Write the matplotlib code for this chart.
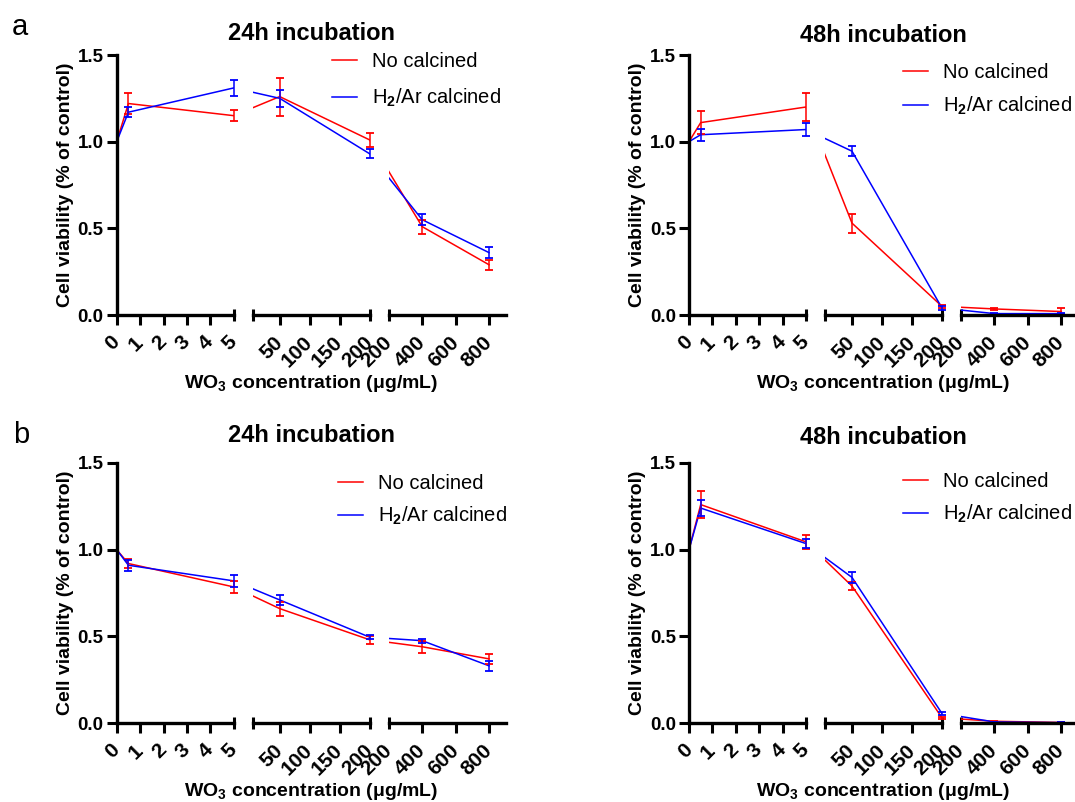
import matplotlib
matplotlib.use('Agg')
import numpy as np
import matplotlib.pyplot as plt
from matplotlib.lines import Line2D

plt.rcParams['font.family'] = ['Liberation Sans', 'DejaVu Sans']
plt.rcParams['font.weight'] = 'bold'
plt.rcParams['mathtext.fontset'] = 'custom'
plt.rcParams['mathtext.rm'] = 'Liberation Sans'
plt.rcParams['mathtext.bf'] = 'Liberation Sans:bold'

RED = '#ff0000'
BLUE = '#0000ff'

conc = [0, 0.5, 5, 50, 200, 400, 800]

# panel a, 24h
a24_no = [1.0, 1.22, 1.15, 1.26, 1.01, 0.51, 0.29]
a24_no_err = [0, 0.06, 0.03, 0.11, 0.04, 0.04, 0.03]
a24_h2 = [1.0, 1.17, 1.31, 1.25, 0.93, 0.55, 0.36]
a24_h2_err = [0, 0.03, 0.045, 0.05, 0.025, 0.03, 0.03]

# panel a, 48h
a48_no = [1.0, 1.11, 1.20, 0.53, 0.05, 0.035, 0.02]
a48_no_err = [0, 0.065, 0.08, 0.055, 0.01, 0.004, 0.02]
a48_h2 = [1.0, 1.04, 1.07, 0.945, 0.04, 0.008, 0.008]
a48_h2_err = [0, 0.035, 0.04, 0.03, 0.01, 0.003, 0.003]

# panel b, 24h
b24_no = [1.0, 0.92, 0.785, 0.66, 0.48, 0.44, 0.37]
b24_no_err = [0, 0.027, 0.035, 0.04, 0.022, 0.034, 0.027]
b24_h2 = [1.0, 0.91, 0.82, 0.71, 0.495, 0.475, 0.33]
b24_h2_err = [0, 0.033, 0.034, 0.031, 0.012, 0.012, 0.03]

# panel b, 48h
b48_no = [1.0, 1.26, 1.045, 0.79, 0.03, 0.01, 0.003]
b48_no_err = [0, 0.08, 0.042, 0.025, 0.005, 0.003, 0.002]
b48_h2 = [1.0, 1.24, 1.035, 0.84, 0.055, 0.006, 0.002]
b48_h2_err = [0, 0.044, 0.028, 0.032, 0.01, 0.002, 0.002]

# broken x axis: three pieces
seg_ranges = [(0, 5), (5, 200), (200, 900)]
seg_major = [[0, 1, 2, 3, 4], [50, 100, 150], [400, 600, 800]]
seg_minor = [[5], [5, 200], [200]]
seg_minor_lbl = [['5'], ['', '200'], ['200']]
y_ticks = [0.0, 0.5, 1.0, 1.5]
legend_labels = ['No calcined', 'H$_2$/Ar calcined']

FW, FH = 1075, 802
W, G = 117, 19  # piece width and gap in px


def seg_of(x):
    if x <= 5:
        return 0
    if x <= 200:
        return 1
    return 2


def to_pos(x, k):
    lo, hi = seg_ranges[k]
    return k * (W + G) + (x - lo) / (hi - lo) * W


def pos(x):
    return to_pos(x, seg_of(x))


def draw_panel(x0, ybot, ytop, title, title_y, leg_xy, leg_sp, no, no_err, h2, h2_err):
    px = [pos(c) for c in conc]
    for k in range(3):
        left = x0 + k * (W + G)
        ax = plt.gcf().add_axes([left / FW, (FH - ybot) / FH, W / FW, (ybot - ytop) / FH])
        ax.set_xlim(k * (W + G), k * (W + G) + W)
        ax.set_ylim(0, 1.5)
        ax.patch.set_alpha(0)
        for s in ['top', 'right']:
            ax.spines[s].set_visible(False)
        ax.spines['bottom'].set_linewidth(2.4)
        if k == 0:
            ax.spines['left'].set_linewidth(2.4)
            ax.set_yticks(y_ticks, ['%.1f' % v for v in y_ticks])
            ax.tick_params(axis='y', length=7.5, width=2.2, labelsize=13.5, pad=2)
        else:
            ax.spines['left'].set_visible(False)
            ax.set_yticks([])

        ax.set_xticks([to_pos(t, k) for t in seg_major[k]], [str(t) for t in seg_major[k]])
        ax.set_xticks([to_pos(t, k) for t in seg_minor[k]], seg_minor_lbl[k], minor=True)
        ax.tick_params(axis='x', which='major', direction='out', length=7.5, width=2.2,
                       labelsize=15, pad=10)
        ax.tick_params(axis='x', which='minor', direction='inout', length=8.5, width=2.2,
                       labelsize=15, pad=13)
        for lbl in ax.get_xticklabels(which='both'):
            lbl.set_rotation(45)
            lbl.set_ha('right')
            lbl.set_va('center')
            lbl.set_rotation_mode('anchor')

        ax.plot(px, no, color=RED, linewidth=1.1)
        ax.plot(px, h2, color=BLUE, linewidth=1.1)

        for vals, errs, c in [(no, no_err, RED), (h2, h2_err, BLUE)]:
            idx = [i for i in range(len(conc)) if seg_of(conc[i]) == k and errs[i] > 0]
            if not idx:
                continue
            eb = ax.errorbar([px[i] for i in idx], [vals[i] for i in idx],
                             yerr=[errs[i] for i in idx], fmt='none', ecolor=c,
                             elinewidth=1.1, capsize=3, capthick=1.3)
            for art in eb.get_children():
                art.set_clip_on(False)

    cx = x0 + (3 * W + 2 * G) / 2
    fig = plt.gcf()
    fig.text(cx / FW, 1 - title_y / FH, title, fontsize=17, ha='center', va='center')
    fig.text(cx / FW, 1 - (ybot + 69) / FH, r'WO$_\mathbf{3}$ concentration (μg/mL)',
             fontsize=14, ha='center', va='center')
    fig.text((x0 - 51) / FW, 1 - (ybot + ytop) / 2 / FH, 'Cell viability (% of control)',
             fontsize=14, rotation=90, ha='center', va='center')
    handles = [Line2D([], [], color=RED, linewidth=1.1), Line2D([], [], color=BLUE, linewidth=1.1)]
    fig.legend(handles, legend_labels, loc='upper left',
               bbox_to_anchor=(leg_xy[0] / FW, 1 - leg_xy[1] / FH),
               frameon=False, prop={'size': 14.5, 'weight': 'normal'},
               handlelength=1.24, handletextpad=0.73, labelspacing=leg_sp,
               borderpad=0, borderaxespad=0)


fig = plt.figure(figsize=(FW / 100, FH / 100), dpi=100)

draw_panel(116.7, 315, 55, '24h incubation', 33, (332, 52), 0.8,
           a24_no, a24_no_err, a24_h2, a24_h2_err)
draw_panel(689, 315, 55, '48h incubation', 36, (903, 63), 0.65,
           a48_no, a48_no_err, a48_h2, a48_h2_err)
draw_panel(116.7, 723, 463, '24h incubation', 435, (338, 474), 0.6,
           b24_no, b24_no_err, b24_h2, b24_h2_err)
draw_panel(689, 723, 463, '48h incubation', 437, (903, 472), 0.6,
           b48_no, b48_no_err, b48_h2, b48_h2_err)

fig.text(20 / FW, 1 - 27 / FH, 'a', fontsize=21, weight='normal', ha='center', va='center')
fig.text(21 / FW, 1 - 435 / FH, 'b', fontsize=21, weight='normal', ha='center', va='center')

fig.savefig('out.png', dpi=100)
